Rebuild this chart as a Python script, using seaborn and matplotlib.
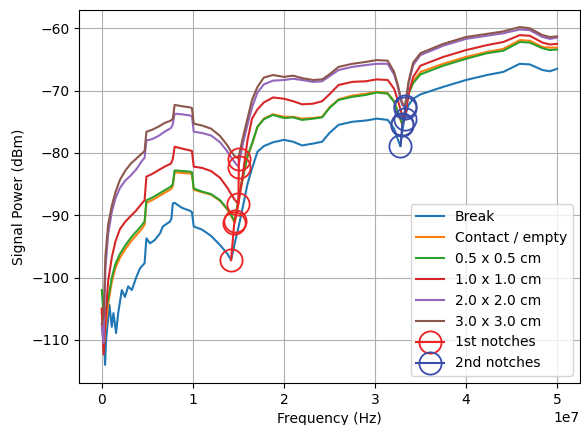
import numpy as np
import pandas as pd
import matplotlib
matplotlib.use("Agg")
import matplotlib.pyplot as plt
import seaborn as sns

# frequency grid in units of 1e7 Hz (shared by the five sensor curves)
freq_e7 = [0, 0.02, 0.04, 0.07, 0.11, 0.15, 0.2, 0.26, 0.32, 0.38, 0.44, 0.47, 0.49,
           0.55, 0.62, 0.69, 0.76, 0.78, 0.80, 0.88, 0.97, 0.99, 1.01, 1.1, 1.2, 1.3,
           1.38, 1.42, 1.46, 1.50, 1.55, 1.60, 1.65, 1.71, 1.78, 1.88, 2.0, 2.1, 2.2,
           2.32, 2.42, 2.5, 2.6, 2.75, 2.9, 3.02, 3.14, 3.21, 3.25, 3.28, 3.30, 3.33,
           3.37, 3.42, 3.5, 3.75, 4.0, 4.23, 4.41, 4.59, 4.70, 4.84, 4.92, 5.0]

# the "Break" curve is noisier at low frequency, so it has its own grid
break_freq_e7 = [0, 0.02, 0.036, 0.047, 0.084, 0.11, 0.128, 0.157, 0.18, 0.22, 0.255, 0.29,
                 0.33, 0.38, 0.42, 0.47, 0.49, 0.53, 0.58, 0.64, 0.67, 0.75, 0.765, 0.78,
                 0.80, 0.88, 0.97, 0.99, 1.01, 1.1, 1.2, 1.3,
                 1.38, 1.42, 1.46, 1.50, 1.55, 1.60, 1.65, 1.71, 1.78, 1.88, 2.0, 2.1, 2.2,
                 2.32, 2.42, 2.5, 2.6, 2.75, 2.9, 3.02, 3.14, 3.21, 3.25, 3.28, 3.30, 3.33,
                 3.37, 3.42, 3.5, 3.75, 4.0, 4.23, 4.41, 4.59, 4.70, 4.84, 4.92, 5.0]

break_db = [-105.7, -108, -114, -110, -104.4, -107.9, -105.7, -108.9, -105.7, -102, -103.1, -101.4,
            -102, -99.9, -98.5, -97.7, -93.7, -94.5, -94.0, -92.9, -91.8, -91.0, -90.5, -88.1,
            -88.0, -88.8, -89.3, -89.5, -91.8, -92.3, -93.3, -94.8,
            -96.2, -97.2, -94.5, -92.0, -88.6, -85.0, -82.5, -79.8, -78.9, -78.3, -77.9, -78.2, -78.8,
            -78.5, -78.2, -76.8, -75.5, -75.0, -74.8, -74.5, -74.7, -76.1, -77.8, -78.9, -76.5, -74.0,
            -72.3, -71.3, -70.6, -69.4, -68.3, -67.5, -67.0, -65.7, -65.8, -66.7, -66.9, -66.5]

contact_db = [-105, -111.5, -108, -104.2, -100.7, -98.4, -96.8, -95.4, -94.2, -93.2, -92.2, -91.5, -88.0,
              -87.6, -87.0, -86.4, -85.8, -85.3, -83.1, -83.2, -83.3, -83.4, -85.9, -86.3, -86.7, -87.7,
              -89.1, -90.1, -91.2, -87.7, -84.0, -80.7, -78.6, -75.8, -74.5, -73.8, -74.2, -74.2, -74.5,
              -74.4, -74.2, -72.7, -71.4, -70.8, -70.5, -70.2, -70.4, -71.7, -73.4, -74.7, -75.5, -73.7,
              -70.4, -68.5, -67.0, -65.7, -64.6, -63.8, -63.3, -61.9, -62.0, -63.0, -63.1, -63.1]

half_db = [-102, -106, -105.7, -103.5, -100.0, -97.8, -96.2, -94.8, -93.6, -92.6, -91.6, -91.0, -87.6,
           -87.2, -86.6, -86.0, -85.4, -85.0, -82.8, -82.9, -83.0, -83.1, -85.7, -86.2, -86.6, -87.6,
           -89.0, -89.9, -91.0, -87.5, -83.8, -80.5, -78.5, -75.8, -74.6, -73.9, -74.4, -74.3, -74.7,
           -74.5, -74.3, -72.8, -71.5, -71.0, -70.7, -70.3, -70.5, -71.8, -73.3, -74.5, -75.3, -73.5,
           -70.5, -68.8, -67.4, -66.0, -64.9, -64.0, -63.6, -62.2, -62.3, -63.2, -63.5, -63.4]

one_db = [-105, -112.3, -107, -100.5, -96.8, -94.2, -92.2, -91.0, -90.1, -89.2, -88.1, -87.6, -83.8,
          -83.4, -82.8, -82.2, -81.7, -81.0, -79.0, -79.3, -79.6, -79.7, -82.2, -82.4, -82.9, -84.0,
          -85.6, -86.6, -87.5, -88.2, -83.3, -78.0, -74.5, -73.0, -71.9, -71.1, -71.3, -71.7, -72.2,
          -72.1, -71.7, -70.6, -69.1, -68.6, -68.5, -68.2, -68.3, -69.7, -71.5, -73.0, -74.0, -74.5,
          -70.5, -67.8, -66.0, -64.6, -63.5, -62.7, -62.2, -61.1, -61.2, -62.3, -62.6, -62.5]

two_db = [-108, -110.5, -98.5, -93.0, -89.5, -87.3, -85.6, -84.4, -83.6, -82.6, -81.3, -80.8, -78.0,
          -77.8, -77.3, -76.6, -76.0, -75.4, -73.7, -73.8, -74.0, -74.1, -76.6, -76.8, -77.2, -78.3,
          -79.8, -80.7, -81.5, -82.2, -78.5, -75.5, -72.7, -70.3, -69.0, -68.4, -68.3, -68.1, -68.3,
          -68.6, -68.5, -67.7, -66.7, -66.2, -65.9, -65.7, -65.7, -67.4, -69.3, -71.3, -72.3, -72.8,
          -68.8, -65.9, -64.3, -62.8, -61.7, -61.2, -60.8, -60.2, -60.3, -61.4, -61.7, -61.5]

three_db = [-107.5, -106, -96.5, -91.5, -88.5, -86.3, -84.3, -82.8, -81.7, -80.9, -80.1, -79.7, -76.6,
            -76.3, -75.8, -75.2, -74.8, -74.5, -72.3, -72.5, -72.7, -72.8, -75.3, -75.6, -76.1, -77.3,
            -78.8, -79.8, -80.5, -80.9, -77.5, -74.5, -71.5, -69.4, -67.9, -67.5, -67.8, -67.6, -68.0,
            -68.3, -68.2, -67.4, -66.2, -65.7, -65.4, -65.1, -65.2, -67.0, -69.0, -71.0, -72.0, -72.5,
            -68.5, -65.5, -64.0, -62.5, -61.4, -60.9, -60.5, -59.8, -60.0, -61.1, -61.4, -61.3]

series_names = ["Break", "Contact / empty", "0.5 x 0.5 cm", "1.0 x 1.0 cm",
                "2.0 x 2.0 cm", "3.0 x 3.0 cm"]
series_freqs = [break_freq_e7, freq_e7, freq_e7, freq_e7, freq_e7, freq_e7]
series_values = [break_db, contact_db, half_db, one_db, two_db, three_db]

notch1_freq_e7 = [1.42, 1.455, 1.46, 1.50, 1.505, 1.505]
notch1_db = [-97.2, -91.2, -91.0, -88.2, -82.2, -80.9]
notch2_freq_e7 = [3.28, 3.30, 3.30, 3.325, 3.33, 3.335]
notch2_db = [-78.9, -75.5, -75.3, -74.5, -72.8, -72.5]

rows = []
for name, fr, vals in zip(series_names, series_freqs, series_values):
    for f, v in zip(fr, vals):
        rows.append({"freq": f * 1e7, "power": v, "series": name})
df = pd.DataFrame(rows)

fig = plt.figure(figsize=(5.81, 4.25), dpi=100)
ax = fig.add_axes([0.136, 0.099, 0.862, 0.877])

palette = sns.color_palette("tab10", 6)
sns.lineplot(data=df, x="freq", y="power", hue="series", hue_order=series_names,
             palette=palette, estimator=None, sort=False, linewidth=1.5, ax=ax)

sns.lineplot(x=[f * 1e7 for f in notch1_freq_e7], y=notch1_db, sort=False, estimator=None,
             color="#ee2222", marker="o", markersize=16, markerfacecolor="none",
             markeredgecolor="#ee2222", markeredgewidth=1.3, linewidth=1.5,
             label="1st notches", ax=ax)
sns.lineplot(x=[f * 1e7 for f in notch2_freq_e7], y=notch2_db, sort=False, estimator=None,
             color="#3a4caa", marker="o", markersize=16, markerfacecolor="none",
             markeredgecolor="#3a4caa", markeredgewidth=1.3, linewidth=1.5,
             label="2nd notches", ax=ax)

ax.set_xlim(-0.25e7, 5.25e7)
ax.set_ylim(-116.9, -57.1)
ax.set_yticks([-110, -100, -90, -80, -70, -60])
ax.grid(True, color="#b0b0b0", linewidth=0.8)
ax.set_axisbelow(True)
ax.set_xlabel("Frequency (Hz)", fontsize=10)
ax.set_ylabel("Signal Power (dBm)", fontsize=10)
ax.tick_params(labelsize=10)
ax.legend(loc="lower right", fontsize=10)

fig.savefig("out.png", dpi=100)
